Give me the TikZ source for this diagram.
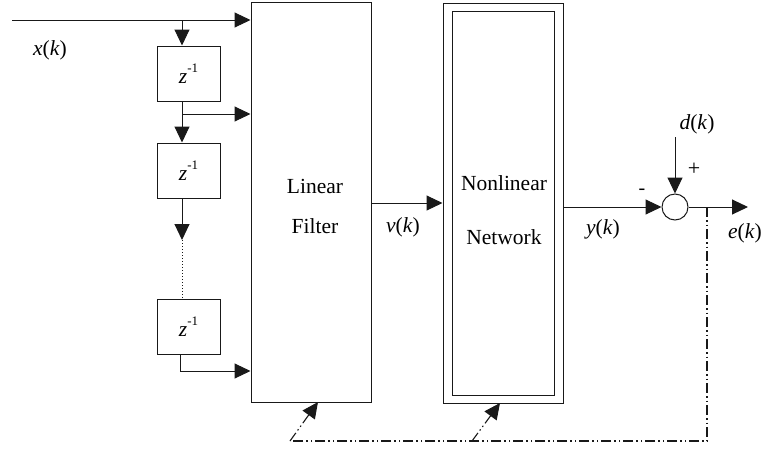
\documentclass[tikz,border=0pt]{standalone}
\usepackage{fontspec}
\setmainfont{Liberation Serif}
\usetikzlibrary{arrows.meta}
\begin{document}
\begin{tikzpicture}[x=1pt,y=-1pt,
  every node/.style={font=\fontsize{21.5}{24}\selectfont},
  ln/.style={line width=1pt, draw=black!90},
  tip/.style={-{Triangle[length=16pt,width=15pt]}},
  arr/.style={ln, tip},
  blk/.style={ln, rectangle, inner sep=0pt},
  dly/.style={blk, minimum width=63pt, minimum height=55pt},
  ddot/.style={ln, line width=1.1pt, dash pattern=on 10pt off 3pt on 1.5pt off 3pt on 1.5pt off 3pt},
  lbl/.style={inner sep=0pt}
]
\useasboundingbox (0,0) rectangle (765,448);
% blocks
\node[blk, minimum width=120pt, minimum height=400pt] (lf) at (311,202) {};
\node[lbl] at (315,186) {Linear};
\node[lbl] at (315,226) {Filter};
\node[blk, minimum width=120pt, minimum height=400pt] (nn) at (503,203) {};
\node[blk, minimum width=102pt, minimum height=384pt] (nni) at (503,203) {};
\node[lbl] at (504,183) {Nonlinear};
\node[lbl] at (504,237) {Network};
\node[dly] (d1) at (188.5,73.5) {\textit{z}\raisebox{1.1ex}{\fontsize{13}{14}\selectfont -1}};
\node[dly] (d2) at (188.5,170.5) {\textit{z}\raisebox{1.1ex}{\fontsize{13}{14}\selectfont -1}};
\node[dly] (d3) at (188.5,326.5) {\textit{z}\raisebox{1.1ex}{\fontsize{13}{14}\selectfont -1}};
\node[ln, circle, minimum size=26pt, inner sep=0pt] (sum) at (675,207) {};
% coordinates
\coordinate (in) at (12,20);
\coordinate (t0) at (182,20);
\coordinate (t1) at (182,114);
\coordinate (t2) at (182,240);
\coordinate (t3a) at (180,354);
\coordinate (t3b) at (180,371);
\coordinate (vv) at (371,203);
\coordinate (dd) at (675,137);
\coordinate (eout) at (748,207);
\coordinate (fb0) at (707,207);
\coordinate (fb1) at (707,441);
\coordinate (fb2) at (290,441);
\coordinate (fb3) at (472,441);
\coordinate (lfb) at (318,402);
\coordinate (nnb) at (500,403);
% connectors
\draw[arr] (in) -- (in -| lf.west);
\draw[arr] (t0) -- (t0 |- d1.north);
\draw[arr] (t0 |- d1.south) -- (t0 |- d2.north);
\draw[arr] (t1) -- (t1 -| lf.west);
\draw[arr] (t0 |- d2.south) -- (t2);
\draw[ln, dotted] (t2) -- (t2 |- d3.north);
\draw[ln] (t3a) -- (t3b);
\draw[arr] (t3b) -- (t3b -| lf.west);
\draw[arr] (vv) -- (vv -| nn.west);
\draw[arr] (nn.east |- sum) -- (sum.west);
\draw[arr] (dd) -- (sum.north);
\draw[arr] (sum.east) -- (eout);
\draw[ddot] (fb0) -- (fb1) -- (fb2);
\draw[ddot, tip] (fb2) -- (lfb);
\draw[ddot, tip] (fb3) -- (nnb);
% labels
\node[lbl] at (50,50) {\textit{x}(\textit{k})};
\node[lbl] at (403,227) {\textit{v}(\textit{k})};
\node[lbl] at (603,229) {\textit{y}(\textit{k})};
\node[lbl] at (745,233) {\textit{e}(\textit{k})};
\node[lbl] at (697,124) {\textit{d}(\textit{k})};
\node[lbl, font=\fontsize{20}{22}\selectfont] at (642,192) {-};
\node[lbl, font=\fontsize{22}{24}\selectfont] at (694,169) {+};
\end{tikzpicture}
\end{document}
